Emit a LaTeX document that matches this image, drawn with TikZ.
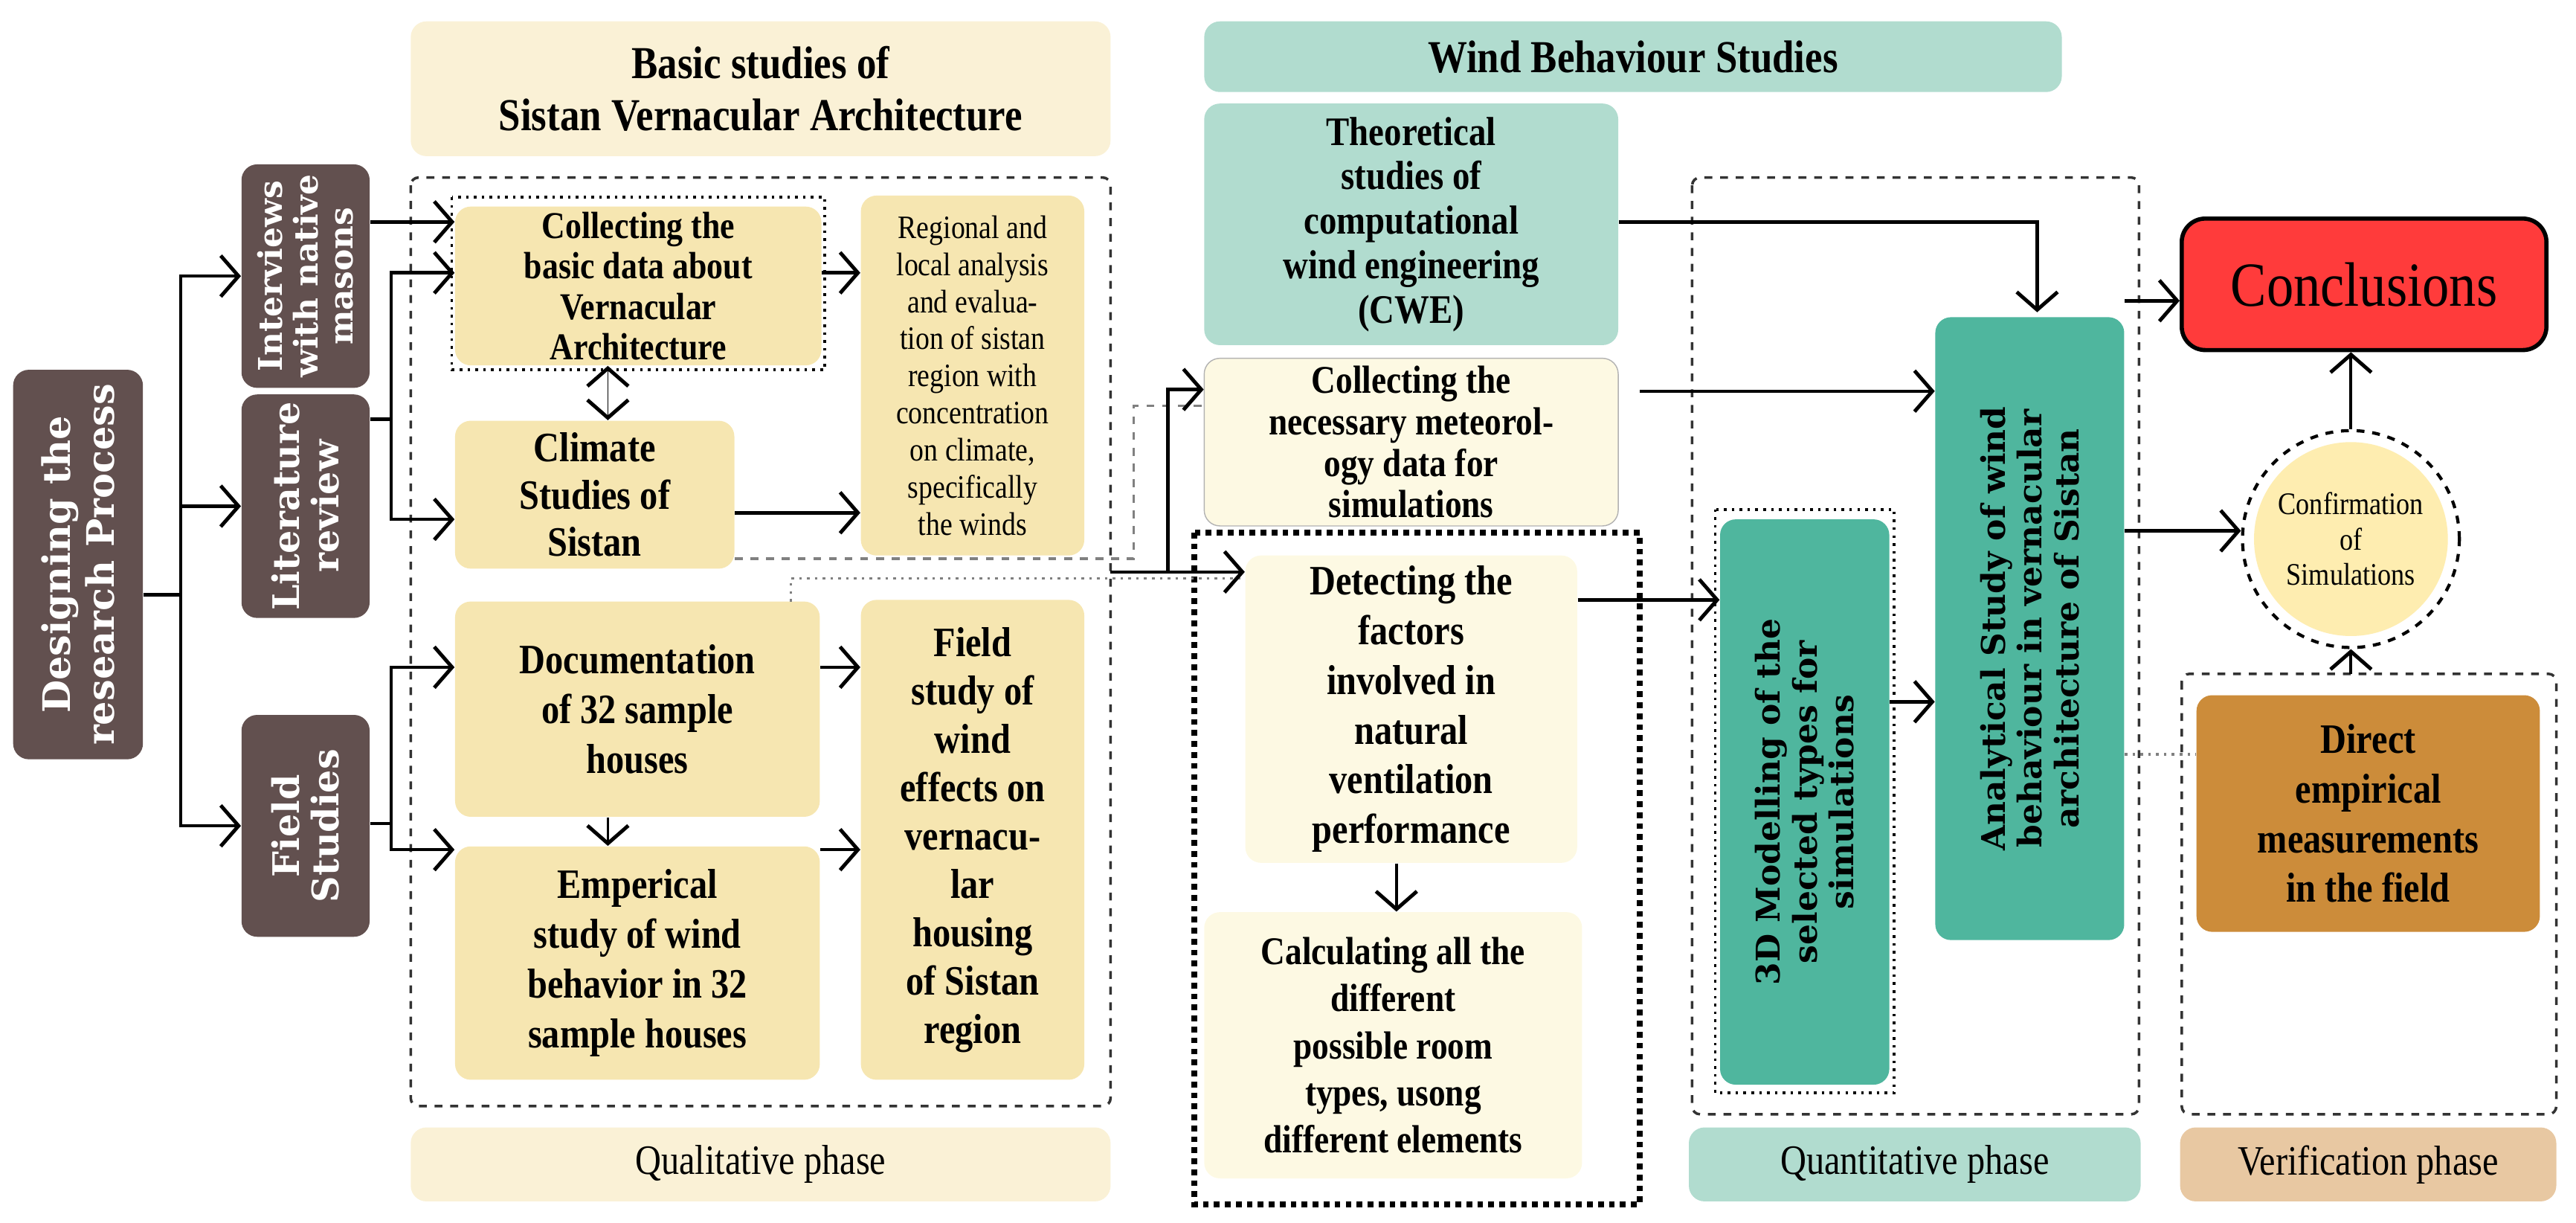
\documentclass[tikz,border=0pt]{standalone}
\usepackage{fontspec}
\setmainfont{Liberation Serif}[FakeStretch=0.86]
\newfontfamily\rotfont{DejaVu Serif}
\usetikzlibrary{arrows.meta,positioning}
\def\unitpx{0.02209cm}
\definecolor{brownbox}{HTML}{62504F}
\definecolor{sandbox}{HTML}{F6E6B1}
\definecolor{sandlight}{HTML}{FAF1D6}
\definecolor{creambox}{HTML}{FDF9E3}
\definecolor{mintbox}{HTML}{B1DCCF}
\definecolor{tealbox}{HTML}{4FB69E}
\definecolor{redbox}{HTML}{FF3B3B}
\definecolor{ochrebox}{HTML}{CC8C3A}
\definecolor{peachbox}{HTML}{E8C8A2}
\definecolor{yellowdisc}{HTML}{FEEDB0}
\tikzset{%
    >={Straight Barb[length=2.4mm,width=5.5mm,line width=1.4pt]},
    base/.style = {
        rectangle, rounded corners=6pt, draw=none, align=center,
        font=\fontsize{13}{14.5}\selectfont\bfseries, inner sep=2pt
    },
    sidebar/.style = {base, fill=brownbox, text=white, rotate=90,
        font=\rotfont\fontsize{12.5}{13.5}\selectfont\bfseries},
    sandy/.style = {base, fill=sandbox},
    cream/.style = {base, fill=creambox},
    minty/.style = {base, fill=mintbox},
    tealv/.style = {base, fill=tealbox, rotate=90,
        font=\rotfont\fontsize{12.5}{14}\selectfont\bfseries},
    header/.style = {base, font=\fontsize{17.5}{20}\selectfont\bfseries},
    phase/.style = {base, font=\fontsize{16}{18}\selectfont},
    frame/.style = {draw=black!80, dashed, line width=1pt, rounded corners=3pt},
    link/.style = {->, line width=1.3pt},
    greylink/.style = {draw=black!50, line width=1pt},
}
\begin{document}
\begin{tikzpicture}[x=\unitpx, y=-\unitpx]
    \useasboundingbox (0,0) rectangle (1568,744);
    % Frames
    \draw[frame] (250,108) rectangle (676,673);
    \draw[frame] (1030,108) rectangle (1302,678);
    \draw[frame] (1328,410) rectangle (1556,678);
    \draw[dotted, line width=2.2pt] (727,324) rectangle (998,733);
    \draw[dotted, line width=1pt] (275,120) rectangle (502,225);
    \draw[dotted, line width=1pt] (1044,310) rectangle (1153,665);

    % Headers and phases
    \node (basicHead) [header, fill=sandlight, minimum width=426*\unitpx, minimum height=82*\unitpx]
        at (463,54) {Basic studies of\\Sistan Vernacular Architecture};
    \node (windHead) [header, fill=mintbox, minimum width=522*\unitpx, minimum height=43*\unitpx]
        at (994,34.5) {Wind Behaviour Studies};
    \node (qualPhase) [phase, fill=sandlight, minimum width=426*\unitpx, minimum height=45*\unitpx]
        at (463,708.5) {Qualitative phase};
    \node (quantPhase) [phase, fill=mintbox, minimum width=275*\unitpx, minimum height=45*\unitpx]
        at (1165.5,708.5) {Quantitative phase};
    \node (verifPhase) [phase, fill=peachbox, minimum width=229*\unitpx, minimum height=45*\unitpx]
        at (1441.5,708.5) {Verification phase};

    % Left column
    \node (design) [sidebar, minimum width=237*\unitpx, minimum height=79*\unitpx,
        font=\rotfont\fontsize{14.5}{17}\selectfont\bfseries]
        at (47.5,343.5) {Designing the\\research Process};
    \node (interviews) [sidebar, minimum width=136*\unitpx, minimum height=78*\unitpx]
        at (186,168) {Interviews\\with native\\masons};
    \node (literature) [sidebar, minimum width=136*\unitpx, minimum height=78*\unitpx,
        font=\rotfont\fontsize{14}{15}\selectfont\bfseries]
        at (186,308) {Literature\\review};
    \node (fieldStudies) [sidebar, minimum width=135*\unitpx, minimum height=78*\unitpx,
        font=\rotfont\fontsize{14}{15}\selectfont\bfseries]
        at (186,502.5) {Field\\Studies};

    % Qualitative phase
    \node (collectBasic) [sandy, minimum width=223*\unitpx, minimum height=96*\unitpx,
        font=\fontsize{14.5}{15.5}\selectfont\bfseries]
        at (388.5,174) {Collecting the\\basic data about\\Vernacular\\Architecture};
    \node (regional) [sandy, minimum width=136*\unitpx, minimum height=219*\unitpx,
        font=\fontsize{12.5}{14.2}\selectfont]
        at (592,228.5) {Regional and\\local analysis\\and evalua-\\tion of sistan\\region with\\concentration\\on climate,\\specifically\\the winds};
    \node (climate) [sandy, minimum width=170*\unitpx, minimum height=90*\unitpx,
        font=\fontsize{16}{18}\selectfont\bfseries]
        at (362,301) {Climate\\Studies of\\Sistan};
    \node (documentation) [sandy, minimum width=222*\unitpx, minimum height=131*\unitpx,
        font=\fontsize{16}{19}\selectfont\bfseries]
        at (388,431.5) {Documentation\\of 32 sample\\houses};
    \node (empirical) [sandy, minimum width=222*\unitpx, minimum height=142*\unitpx,
        font=\fontsize{16}{19}\selectfont\bfseries]
        at (388,586) {Emperical\\study of wind\\behavior in 32\\sample houses};
    \node (fieldWind) [sandy, minimum width=136*\unitpx, minimum height=292*\unitpx,
        font=\fontsize{16}{18.5}\selectfont\bfseries]
        at (592,511) {Field\\study of\\wind\\effects on\\vernacu-\\lar\\housing\\of Sistan\\region};

    % Wind behaviour column
    \node (theoretical) [minty, minimum width=252*\unitpx, minimum height=147*\unitpx,
        font=\fontsize{15.5}{17}\selectfont\bfseries]
        at (859,136.5) {Theoretical\\studies of\\computational\\wind engineering\\(CWE)};
    \node (meteo) [cream, draw=black!30, minimum width=252*\unitpx, minimum height=102*\unitpx,
        font=\fontsize{15}{15.8}\selectfont\bfseries]
        at (859,269) {Collecting the\\necessary meteorol-\\ogy data for\\simulations};
    \node (detecting) [cream, minimum width=202*\unitpx, minimum height=187*\unitpx,
        font=\fontsize{16}{19}\selectfont\bfseries]
        at (859,431.5) {Detecting the\\factors\\involved in\\natural\\ventilation\\performance};
    \node (calculating) [cream, minimum width=230*\unitpx, minimum height=162*\unitpx,
        font=\fontsize{15}{18}\selectfont\bfseries]
        at (848,636) {Calculating all the\\different\\possible room\\types, usong\\different elements};

    % Quantitative and verification
    \node (modelling) [tealv, minimum width=344*\unitpx, minimum height=103*\unitpx]
        at (1098.5,488) {3D Modelling of the\\selected types for\\simulations};
    \node (analytical) [tealv, minimum width=379*\unitpx, minimum height=115*\unitpx]
        at (1235.5,382.5) {Analytical Study of wind\\behaviour in vernacular\\architecture of Sistan};
    \node (conclusions) [base, fill=redbox, draw=black, line width=1.6pt, rounded corners=9pt,
        minimum width=222*\unitpx, minimum height=80*\unitpx,
        font=\fontsize{24}{26}\selectfont]
        at (1439,173) {Conclusions};
    \node (confirmation) [circle, draw=black, dashed, line width=1.2pt, fill=white,
        minimum size=132*\unitpx, inner sep=0pt] at (1431,328) {};
    \node (confirmText) [circle, fill=yellowdisc, minimum size=118*\unitpx, inner sep=0pt,
        align=center, font=\fontsize{12}{13.5}\selectfont]
        at (confirmation.center) {Confirmation\\of\\Simulations};
    \node (direct) [base, fill=ochrebox, minimum width=209*\unitpx, minimum height=144*\unitpx,
        font=\fontsize{16}{19}\selectfont\bfseries]
        at (1441.5,495) {Direct\\empirical\\measurements\\in the field};

    % Grey helper lines
    \draw[greylink, dashed] (climate.east |- 0,340) -- (690,340) -- (690,247) -- (meteo.west |- 0,247);
    \draw[greylink, dotted] (documentation.east |- 0,366) ++(-18,0) -- ++(0,-14) -- (detecting.west |- 0,352);
    \draw[greylink, dotted] (analytical.south |- 0,459) -- (direct.west |- 0,459);

    % Arrow specification
    \draw[line width=1.3pt] (design.south |- 0,362) -- (110,362);
    \draw[link] (110,362) |- (interviews.north);
    \draw[link] (110,362) |- (literature.north);
    \draw[link] (110,362) |- (fieldStudies.north);
    \draw[link] (interviews.south |- 0,135) -- (collectBasic.west |- 0,135);
    \draw[line width=1.3pt] (literature.south |- 0,255) -- (238,255);
    \draw[link] (238,255) |- (collectBasic.west |- 0,166);
    \draw[link] (238,255) |- (climate.west |- 0,316);
    \draw[line width=1.3pt] (fieldStudies.south |- 0,501) -- (238,501);
    \draw[link] (238,501) |- (documentation.west |- 0,406);
    \draw[link] (238,501) |- (empirical.west |- 0,517);
    \draw[<->] (collectBasic.south -| 370,0) -- (climate.north -| 370,0);
    \draw[link] (collectBasic.east |- 0,166) -- (regional.west |- 0,166);
    \draw[link] (climate.east |- 0,312) -- (regional.west |- 0,312);
    \draw[link] (documentation.east |- 0,406) -- (fieldWind.west |- 0,406);
    \draw[link] (empirical.east |- 0,517) -- (fieldWind.west |- 0,517);
    \draw[->, line width=1pt] (documentation.south -| 370,0) -- (empirical.north -| 370,0);

    \draw[line width=1.3pt] (676,348) -- (711,348);
    \draw[link] (711,348) |- (meteo.west |- 0,237);
    \draw[link] (711,348) -- (detecting.west |- 0,348);
    \draw[->, line width=1pt] (detecting.south -| 850,0) -- (calculating.north -| 850,0);

    \draw[->, line width=1.3pt] (theoretical.east |- 0,135) -| (1240,190);
    \draw[link] (998,238) -- (analytical.north |- 0,238);
    \draw[link] (detecting.east |- 0,365) -- (modelling.north |- 0,365);
    \draw[link] (modelling.south |- 0,427) -- (analytical.north |- 0,427);
    \draw[link] (analytical.south |- 0,183) -- (conclusions.west |- 0,183);
    \draw[link] (analytical.south |- 0,323) -- (confirmation.west |- 0,323);
    \draw[->, line width=1.2pt] (confirmation.north) -- (conclusions.south -| confirmation.north);
    \draw[->, line width=1.2pt] (confirmation.south |- 0,410) -- (confirmation.south);
\end{tikzpicture}
\end{document}
